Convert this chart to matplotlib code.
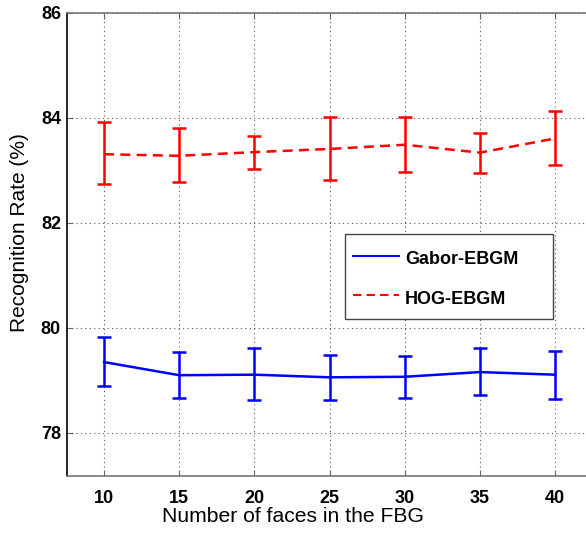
import matplotlib
matplotlib.use("Agg")
import matplotlib.pyplot as plt
from matplotlib.patches import Rectangle
from matplotlib.lines import Line2D
import numpy as np

# Number of faces in the face bunch graph
faces = [10, 15, 20, 25, 30, 35, 40]

# Gabor-EBGM mean recognition rate and error bar extents
gabor_mean = [79.35, 79.10, 79.11, 79.06, 79.07, 79.16, 79.11]
gabor_low = [78.89, 78.66, 78.62, 78.62, 78.66, 78.72, 78.64]
gabor_high = [79.83, 79.55, 79.61, 79.49, 79.47, 79.61, 79.57]

# HOG-EBGM mean recognition rate and error bar extents
hog_mean = [83.31, 83.28, 83.35, 83.41, 83.49, 83.34, 83.61]
hog_low = [82.74, 82.78, 83.03, 82.82, 82.97, 82.95, 83.11]
hog_high = [83.92, 83.80, 83.66, 84.02, 84.02, 83.71, 84.13]

series_names = ["Gabor-EBGM", "HOG-EBGM"]
x_ticks = [10, 15, 20, 25, 30, 35, 40]
y_ticks = [78, 80, 82, 84, 86]

W, H = 586, 537
fig = plt.figure(figsize=(W / 100, H / 100), dpi=100)
left, right, top, bottom = 66.5, 592.6, 13, 476
ax = fig.add_axes([left / W, 1 - bottom / H, (right - left) / W, (bottom - top) / H])


def errs(mean, low, high):
    m = np.array(mean)
    return np.vstack([m - np.array(low), np.array(high) - m])


def px(x, y):
    """Pixel position in the figure (origin top-left) -> axes fraction."""
    return (x - left) / (right - left), (bottom - y) / (bottom - top)


blue, red = "#0000ff", "#ff0000"
dash = (0, (4, 2.5))
ax.errorbar(faces, gabor_mean, yerr=errs(gabor_mean, gabor_low, gabor_high),
            color=blue, lw=1.8, capsize=5, capthick=1.8, elinewidth=1.8)
ax.errorbar(faces, hog_mean, yerr=errs(hog_mean, hog_low, hog_high),
            color=red, lw=1.8, ls=dash, capsize=5, capthick=1.8, elinewidth=1.8)

ax.set_xlim(7.5, 42.5)
ax.set_ylim(77.18, 86)
ax.set_xticks(x_ticks)
ax.set_yticks(y_ticks)
ax.grid(True, color="#555555", ls=(0, (1, 3)), lw=0.8)
ax.set_axisbelow(True)

tick_font = dict(family="Liberation Sans", weight="bold", size=13)
ax.set_xticklabels([str(t) for t in x_ticks], fontdict=tick_font)
ax.set_yticklabels([str(t) for t in y_ticks], fontdict=tick_font)
ax.tick_params(direction="in", length=4, color="#666666", top=True, right=True)
ax.tick_params(axis="x", pad=10)
ax.tick_params(axis="y", pad=4)

for side in ["top", "bottom", "right"]:
    ax.spines[side].set_color("#777777")
ax.spines["left"].set_color("black")
for s in ax.spines.values():
    s.set_linewidth(1.2)

ax.set_xlabel("Number of faces in the FBG", family="Liberation Sans", size=15.2)
ax.xaxis.set_label_coords(*px(293, 522))
ax.xaxis.label.set_va("baseline")
ax.set_ylabel("Recognition Rate (%)", family="Liberation Sans", size=15)
ax.yaxis.set_label_coords(*px(20, 233))
ax.yaxis.label.set_va("center")

# Legend box drawn in axes coordinates
x0, y0 = px(345, 319)
x1, y1 = px(553, 233.5)
ax.add_patch(Rectangle((x0, y0), x1 - x0, y1 - y0, transform=ax.transAxes,
                       facecolor="white", edgecolor="#444444", lw=1.0, zorder=5))
legend_rows = [(series_names[0], blue, "-", 255.5, 259.5),
               (series_names[1], red, dash, 295, 299)]
for name, col, style, ly, ty in legend_rows:
    (a, b), (c, _) = px(353, ly), px(399, ly)
    ax.add_line(Line2D([a, c], [b, b], color=col, ls=style, lw=1.5,
                       transform=ax.transAxes, zorder=6))
    tx, tyf = px(405, ty)
    ax.text(tx, tyf, name, transform=ax.transAxes, va="center", ha="left",
            family="Liberation Sans", weight="bold", size=13, zorder=6)

fig.savefig("out.png", dpi=100)
